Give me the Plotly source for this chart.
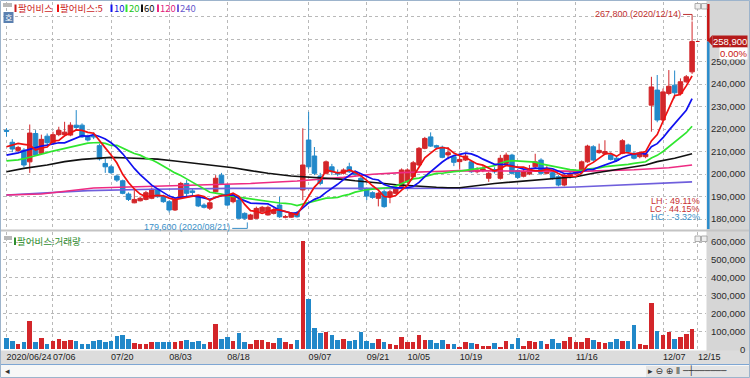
import plotly.graph_objects as go
import pandas as pd

# ---------------- data ----------------
tick_idx = [0, 8, 18, 28, 38, 52, 62, 69, 78, 88, 98, 113, 119]
tick_text = ['2020/06/24', '07/06', '07/20', '08/03', '08/18', '09/07', '09/21',
             '10/05', '10/19', '11/02', '11/16', '12/07', '12/15']

open_p = [219400, 214100, 210500, 210600, 205400, 218000, 209200, 216800, 213900, 217500,
          217500, 217300, 221700, 221700, 216900, 217000, 212600, 204700, 203200, 199100,
          197000, 191100, 187200, 188100, 188700, 189200, 192900, 190200, 187700, 184000,
          189900, 195800, 192500, 189900, 186200, 184800, 192100, 199500, 195100, 187700,
          188400, 182500, 179900, 180300, 183200, 181800, 182500, 186200, 180800, 180800,
          182800, 192900, 215100, 208000, 199100, 200300, 203200, 200500, 200300, 203200,
          200800, 198100, 193200, 191700, 189200, 192100, 189900, 191400, 194300, 196600,
          198800, 204000, 211400, 216500, 212600, 211900, 208500, 207700, 205500, 206200,
          205400, 201000, 201500, 198100, 202000, 198100, 204700, 208400, 201500, 199000,
          200000, 203200, 206200, 200300, 200600, 198800, 195100, 198800, 200000, 201800,
          205400, 212100, 209500, 209000, 208500, 207000, 209200, 212900, 209200, 207700,
          207700, 230600, 237300, 224000, 235800, 239500, 235800, 241000, 245400]
high_p = [220400, 215500, 212500, 211500, 222000, 219500, 217500, 218000, 218800, 221000,
          223200, 223000, 228400, 222500, 217500, 218500, 213500, 206800, 204000, 199800,
          197500, 191800, 192900, 190000, 192500, 194000, 193500, 190800, 188300, 189000,
          196500, 197300, 193500, 190500, 187000, 188000, 199500, 200500, 195800, 190800,
          189000, 183000, 182300, 185500, 185800, 186000, 184800, 189900, 181800, 183000,
          183500, 220300, 227600, 212000, 200500, 206000, 204500, 202000, 202500, 205000,
          201500, 198800, 194000, 192300, 192000, 193000, 193000, 194500, 202500, 202500,
          205800, 212000, 216500, 218500, 213000, 212600, 212000, 208500, 208500, 209000,
          206000, 203000, 203500, 201000, 203000, 208500, 209500, 209000, 202300, 202000,
          204000, 209000, 207000, 203500, 201500, 199500, 200300, 201000, 202000, 206000,
          213000, 212800, 213500, 215000, 209500, 208000, 215500, 213500, 209800, 209600,
          209300, 243200, 244000, 238000, 246200, 246000, 242500, 244000, 267800]
low_p = [216600, 209700, 209800, 203000, 200500, 208000, 208500, 213000, 213000, 216800,
         217000, 216800, 219500, 216000, 214500, 215500, 206000, 200500, 200000, 196500,
         191000, 188000, 187000, 187800, 188300, 188800, 189500, 187200, 182900, 183600,
         189500, 189900, 190500, 185300, 184700, 184000, 191800, 195300, 185800, 187000,
         180000, 179600, 179800, 180000, 182800, 181500, 182000, 180500, 180300, 180500,
         180600, 188400, 202000, 199500, 195000, 199800, 199500, 199000, 199800, 200500,
         199000, 192500, 188400, 189000, 185600, 185000, 187000, 191000, 194000, 196000,
         198500, 203500, 211000, 212000, 211000, 207000, 206500, 203500, 202000, 205800,
         200500, 200300, 200800, 196500, 200200, 197500, 204000, 199800, 197800, 198500,
         199500, 202500, 199500, 199800, 197500, 194500, 194500, 198000, 199500, 201500,
         205000, 205500, 209000, 208500, 206000, 205500, 208800, 209000, 206500, 207000,
         207000, 218800, 223000, 223500, 235000, 233600, 235000, 240500, 244500]
close_p = [219000, 211100, 211800, 204000, 218200, 208400, 215400, 213900, 217500, 219400,
           218600, 221700, 220700, 216500, 215100, 216500, 206700, 203200, 200600, 197300,
           191400, 188700, 188700, 189200, 191700, 193200, 189900, 187700, 184000, 188400,
           195800, 191400, 191800, 185800, 185200, 187200, 198100, 195800, 186200, 189900,
           180300, 180300, 181800, 184700, 185200, 185200, 184000, 181000, 181000, 182500,
           181000, 204000, 203200, 200300, 195800, 205400, 201000, 200000, 201800, 201000,
           199800, 193200, 190200, 189600, 191400, 185500, 192100, 193600, 201800, 201800,
           205000, 211400, 215800, 212400, 211900, 207400, 209500, 205200, 206500, 208000,
           201000, 201800, 202300, 200300, 201000, 207000, 208400, 200300, 198500, 201000,
           202000, 205400, 200300, 202000, 198100, 195100, 199500, 200300, 201500, 205400,
           212400, 206200, 210500, 210000, 206500, 206000, 214800, 209900, 207000, 209200,
           208800, 238700, 224000, 236500, 239000, 236100, 241000, 243200, 258900]
volume = [62600, 47500, 30700, 40200, 155300, 40200, 62600, 30700, 43600, 58700,
          43600, 53100, 43600, 29100, 29100, 43600, 49200, 40200, 43600, 75400,
          81000, 58700, 36300, 30700, 30700, 40200, 38000, 40200, 38000, 39000,
          43600, 51400, 42000, 43600, 29100, 40200, 142500, 54700, 69800, 43600,
          88300, 40200, 30700, 53100, 53100, 40200, 34600, 62600, 40200, 30700,
          51400, 606200, 282100, 118400, 90500, 94100, 77300, 49400, 58700, 43600,
          51400, 96100, 47500, 34600, 56900, 40200, 29100, 21200, 66000, 40200,
          40200, 79200, 51400, 51400, 33000, 51400, 30700, 27000, 14000, 40200,
          34600, 29100, 19600, 16800, 36300, 14000, 43600, 29100, 65400, 19600,
          47500, 40200, 47500, 30700, 58700, 36300, 47500, 69800, 40200, 40200,
          64300, 51400, 40200, 36300, 40200, 56900, 47500, 43600, 136900, 29100,
          21200, 258100, 103400, 77300, 94100, 58700, 66000, 86600, 112700]

# moving-average values visible at the left edge (they depend on earlier, off-screen days)
ma5_head = [212100, 212800, 213600, 213200]
ma10_head = [208400, 208900, 209400, 210300, 211100, 211700, 212400, 212800, 213300]
ma20_head = [205800, 206000, 206300, 206800, 207400, 208000, 208700, 209500, 210200, 210800,
             211400, 212000, 212600, 213200, 213700, 213900, 214000, 213600, 212700]
# long moving averages
ma60_idx = [0, 3, 7, 10, 13, 16, 18, 21, 24, 26, 29, 32, 34, 37, 39, 42, 45, 49, 51, 53, 56, 58,
            60, 63, 65, 67, 70, 72, 74, 76, 78, 84, 90, 95, 98, 101, 104, 107, 110, 112, 115, 118]
ma60_val = [201000, 202500, 204000, 205500, 206500, 207200, 207400, 207100, 206900, 206600,
            205800, 205000, 204300, 203500, 202800, 201500, 200300, 199100, 198800, 198500,
            198100, 197600, 197000, 196400, 195800, 195200, 194600, 194400, 194100, 193900,
            193900, 195800, 197000, 198100, 198800, 200300, 201500, 202500, 204000, 205500,
            207000, 209000]
ma120_idx = [0, 6, 15, 25, 39, 42, 50, 58, 63, 68, 75, 78, 90, 100, 108, 114, 118]
ma120_val = [190700, 191100, 193800, 194600, 195800, 195800, 196900, 198500, 199900, 200600,
             201200, 201500, 201300, 201300, 201900, 202800, 204000]
ma240_idx = [0, 14, 25, 39, 60, 78, 90, 98, 108, 118]
ma240_val = [190700, 192600, 193200, 193600, 193600, 193500, 193700, 194200, 195200, 196500]

price_ticks = [180000, 190000, 200000, 210000, 220000, 230000, 240000, 250000, 260000, 270000]
price_tick_text = ['180,000', '190,000', '200,000', '210,000', '220,000', '230,000',
                   '240,000', '250,000', '', '']
vol_ticks = [100000, 200000, 300000, 400000, 500000, 600000]
vol_tick_text = ['100,000', '200,000', '300,000', '400,000', '500,000', '600,000']

last_price = 258900
hi_price, hi_idx, hi_label = 267800, 118, '267,800 (2020/12/14)'
lo_price, lo_idx, lo_label = 179600, 41, '179,600 (2020/08/21)'
stats = [('LH : 49.11%', 'up'), ('LC : 44.15%', 'up'), ('HC : -3.32%', 'down')]

# ---------------- styling / layout helpers ----------------
RED = '#d3262a'
BLUE = '#2188c9'
GRID = '#b9b9b9'
STRIP = '#d6d6d6'
W, H = 750, 378
ML, MR, MT, MB = 3, 44, 2, 28
PW, PH = W - ML - MR, H - MT - MB


def fx(px):
    return (px - ML) / PW


def fy(py):
    return (H - MB - py) / PH


X0PX, STEP = 6.5, 5.81           # pixel of first candle, pixels per trading day
xr = [(ML - X0PX) / STEP, (W - MR - X0PX) / STEP]
PPX = 10000 / 22.5                # price per pixel
price_dom = [fy(229), 1.0]
price_rng = [180000 - (229 - 219) * PPX, 180000 + (219 - MT) * PPX]
VPX = 100000 / 17.85
vol_dom = [0.0, fy(232)]
vol_rng = [-(H - MB - 349.2) * VPX, (349.2 - 232) * VPX]

n = len(close_p)
idx = list(range(n))
cs = pd.Series(close_p, dtype=float)
ma5 = cs.rolling(5).mean().tolist()
ma10 = cs.rolling(10).mean().tolist()
ma20 = cs.rolling(20).mean().tolist()
ma5[:4] = ma5_head
ma10[:9] = ma10_head
ma20[:19] = ma20_head
vcolors = [RED if c >= o else BLUE for o, c in zip(open_p, close_p)]

fig = go.Figure()
fig.add_trace(go.Candlestick(
    x=idx, open=open_p, high=high_p, low=low_p, close=close_p,
    increasing=dict(line=dict(color=RED, width=1), fillcolor=RED),
    decreasing=dict(line=dict(color=BLUE, width=1), fillcolor=BLUE),
    whiskerwidth=0, showlegend=False, hoverinfo='skip', xaxis='x', yaxis='y'))

for xs, ys, col, wd in [(ma240_idx, ma240_val, '#6f5fdc', 1.6),
                        (ma120_idx, ma120_val, '#ee2a82', 1.6),
                        (ma60_idx, ma60_val, '#111111', 1.6),
                        (idx, ma20, '#2fe62f', 1.7),
                        (idx, ma10, '#1010f0', 1.7),
                        (idx, ma5, '#f01010', 1.7)]:
    fig.add_trace(go.Scatter(x=xs, y=ys, mode='lines', line=dict(color=col, width=wd),
                             showlegend=False, hoverinfo='skip', xaxis='x', yaxis='y'))

fig.add_trace(go.Bar(x=idx, y=volume, width=0.78,
                     marker=dict(color=vcolors, line=dict(width=0)),
                     showlegend=False, hoverinfo='skip', xaxis='x2', yaxis='y2'))

axfont = dict(family='Liberation Sans', size=9.5, color='#2a2a2a')
common_x = dict(range=xr, tickvals=tick_idx, showgrid=True, gridcolor=GRID, griddash='dot',
                gridwidth=1, zeroline=False, showline=False, ticks='', fixedrange=True)
common_y = dict(side='right', showgrid=True, gridcolor=GRID, griddash='dot', gridwidth=1,
                zeroline=False, showline=False, ticks='', tickfont=axfont, fixedrange=True)

fig.update_layout(
    width=W, height=H, margin=dict(l=ML, r=MR, t=MT, b=MB),
    paper_bgcolor='white', plot_bgcolor='white',
    showlegend=False, boxgap=0.12, boxgroupgap=0.12, bargap=0,
    xaxis=dict(domain=[0, 1], anchor='y', showticklabels=False,
               rangeslider=dict(visible=False), **common_x),
    xaxis2=dict(domain=[0, 1], anchor='y2', showticklabels=True, ticktext=tick_text,
                ticklabelposition='outside right',
                tickfont=dict(family='Liberation Sans', size=9, color='#222222'),
                rangeslider=dict(visible=False), **common_x),
    yaxis=dict(domain=price_dom, range=price_rng, tickvals=price_ticks,
               ticktext=price_tick_text, anchor='x', ticklabelstandoff=4, **common_y),
    yaxis2=dict(domain=vol_dom, range=vol_rng, tickvals=vol_ticks,
                ticktext=vol_tick_text, anchor='x2', ticklabelstandoff=4, **common_y),
    yaxis3=dict(overlaying='y2', anchor='x2', range=vol_rng, tickvals=[0], ticktext=['0'],
                side='right', showgrid=False, zeroline=False, showline=False, ticks='',
                tickfont=axfont, ticklabelstandoff=33, fixedrange=True),
)
# invisible trace so the overlay axis (right-aligned "0" label) is drawn
fig.add_trace(go.Scatter(x=[0], y=[0], mode='markers', marker=dict(opacity=0),
                         showlegend=False, hoverinfo='skip', xaxis='x2', yaxis='y3'))


def rect_px(x0, y0, x1, y1, fill, layer='above', lc=None, lw=0):
    return dict(type='rect', xref='paper', yref='paper', x0=fx(x0), x1=fx(x1),
                y0=fy(y1), y1=fy(y0), fillcolor=fill, layer=layer,
                line=dict(color=lc or fill, width=lw))


def line_px(x0, y0, x1, y1, color, width=1, layer='above'):
    return dict(type='line', xref='paper', yref='paper', x0=fx(x0), x1=fx(x1),
                y0=fy(y0), y1=fy(y1), line=dict(color=color, width=width), layer=layer)


shapes = [
    # right axis strip
    rect_px(706.5, 0, 751, 364, STRIP, layer='below'),
    # separator between panels
    line_px(0, 230.5, 750, 230.5, '#c4c4c4', 2),
    # x label band and bottom bar
    rect_px(0, 350.5, 751, 364, '#dcdcdc', layer='below'),
    line_px(0, 364.5, 750, 364.5, '#7ea6d3', 1.2),
    rect_px(0, 365, 751, 378, '#f7f7f7', layer='below'),
    rect_px(646, 366, 751, 378, '#e4e4e4', layer='below'),
    # outer frame
    rect_px(0.5, 0.5, 749.5, 377.5, 'rgba(0,0,0,0)', lc='#9db4cc', lw=1),
    # price range bar on right edge
    dict(type='line', xref='paper', yref='y', x0=fx(708.3), x1=fx(708.3),
         y0=last_price, y1=price_rng[1] - 2 * PPX, line=dict(color='#c81414', width=2.5)),
    dict(type='line', xref='paper', yref='y', x0=fx(708.3), x1=fx(708.3),
         y0=price_rng[0], y1=last_price, line=dict(color='#2a8ccc', width=2.5)),
    # current price pointer
    dict(type='path', xref='paper', yref='paper',
         path=f'M {fx(707.5)} {fy(40.5)} L {fx(712.5)} {fy(35)} L {fx(712.5)} {fy(46)} Z',
         fillcolor='#b51a1a', line=dict(width=0)),
    dict(type='line', xref='x', yref='y', x0=n - 0.35, x1=n + 0.3, y0=last_price,
         y1=last_price, line=dict(color='#c81414', width=1)),
    # high / low brackets
    dict(type='line', xref='x', yref='y', x0=hi_idx - 1.55, x1=hi_idx, y0=hi_price + 7 * PPX,
         y1=hi_price + 7 * PPX, line=dict(color='#c03030', width=1)),
    dict(type='line', xref='x', yref='y', x0=hi_idx, x1=hi_idx, y0=hi_price + 7 * PPX,
         y1=hi_price + 1 * PPX, line=dict(color='#c03030', width=1)),
    dict(type='line', xref='x', yref='y', x0=lo_idx - 2.15, x1=lo_idx + 0.45,
         y0=lo_price - 8.5 * PPX, y1=lo_price - 8.5 * PPX, line=dict(color='#3a8fc8', width=1)),
    dict(type='line', xref='x', yref='y', x0=lo_idx + 0.45, x1=lo_idx + 0.45,
         y0=lo_price - 8.5 * PPX, y1=lo_price - 2.5 * PPX, line=dict(color='#3a8fc8', width=1)),
    # small UI icons
    rect_px(3, 3, 12, 7, '#b8b8b8'),
    rect_px(3.5, 12, 13.5, 23, '#5a80b0'),
    rect_px(695, 3.5, 700.5, 9, '#eeeeee', lc='#9a9a9a', lw=0.8),
    rect_px(701.5, 3.5, 707, 9, '#eeeeee', lc='#9a9a9a', lw=0.8),
    rect_px(4, 236, 12, 240, '#b8b8b8'),
    rect_px(695, 236, 700.5, 241.5, '#eeeeee', lc='#9a9a9a', lw=0.8),
    rect_px(701.5, 236, 707, 241.5, '#eeeeee', lc='#9a9a9a', lw=0.8),
]

# legend colour chips
legend = [(15, '팔어비스', '#cc1f1f', '#cc1f1f'), (57.5, '팔어비스:5', '#cc1f1f', '#f01010'),
          (111, '10', '#1515d8', '#1010f0'), (126, '20', '#22c322', '#2fe62f'),
          (141.5, '60', '#111111', '#111111'), (157.5, '120', '#e0207a', '#ee2a82'),
          (177.5, '240', '#6a5acd', '#6f5fdc')]
annotations = []
kfont = 'Noto Sans CJK KR'
for x, txt, tcol, ccol in legend:
    shapes.append(rect_px(x - 0.5, 4.5, x + 1.5, 12, ccol))
    annotations.append(dict(xref='paper', yref='paper', x=fx(x + 0.5), y=fy(8.3),
                            xanchor='left', yanchor='middle', showarrow=False, text=txt,
                            font=dict(family=kfont, size=9.5, color=tcol)))
shapes.append(rect_px(14, 237.5, 16, 245, '#2f8f2f'))
annotations.append(dict(xref='paper', yref='paper', x=fx(15), y=fy(241.3), xanchor='left',
                        yanchor='middle', showarrow=False, text='팔어비스:거래량',
                        font=dict(family=kfont, size=9.5, color='#2f8f2f')))
annotations.append(dict(xref='paper', yref='paper', x=fx(8.5), y=fy(17.5), xanchor='center',
                        yanchor='middle', showarrow=False, text='호',
                        font=dict(family=kfont, size=8, color='white')))

sfont = 'Liberation Sans'
annotations += [
    dict(xref='paper', yref='y', x=fx(747.5), y=last_price, xanchor='right', yanchor='middle',
         showarrow=False, text=f'{last_price:,}', bgcolor='#b51a1a', borderpad=0,
         font=dict(family=sfont, size=9.5, color='white')),
    dict(xref='paper', yref='y', x=fx(747.5), y=last_price, yshift=-12.5, xanchor='right',
         yanchor='middle', showarrow=False, text='0.00%', bgcolor='white', borderpad=0,
         font=dict(family=sfont, size=9.5, color='#c81414')),
    dict(xref='x', yref='y', x=hi_idx - 1.55, y=hi_price + 7 * PPX, xanchor='right',
         yanchor='middle', showarrow=False, text=hi_label,
         font=dict(family=sfont, size=9, color='#c03030')),
    dict(xref='x', yref='y', x=lo_idx - 2.15, y=lo_price - 7 * PPX, xanchor='right',
         yanchor='middle', showarrow=False, text=lo_label,
         font=dict(family=sfont, size=9, color='#3a8fc8')),
]
for k, (txt, kind) in enumerate(stats):
    annotations.append(dict(xref='paper', yref='paper', x=fx(702), y=fy(201 + 8 * k),
                            xanchor='right', yanchor='middle', showarrow=False, text=txt,
                            font=dict(family=sfont, size=9,
                                      color='#c83232' if kind == 'up' else '#3a8fc8')))
# bottom bar controls
annotations += [
    dict(xref='paper', yref='paper', x=fx(3), y=fy(371.5), xanchor='left', yanchor='middle',
         showarrow=False, text='◂', font=dict(family='DejaVu Sans', size=9, color='#333')),
    dict(xref='paper', yref='paper', x=fx(646), y=fy(371.5), xanchor='left', yanchor='middle',
         showarrow=False, text='▸ ⊖ ⊕ ⦀ ─┼──────',
         font=dict(family='DejaVu Sans', size=9, color='#333')),
]

fig.update_layout(shapes=shapes, annotations=annotations)
fig.write_html('out.html', config={'displayModeBar': False, 'staticPlot': True},
               post_script="document.body.style.margin='0';document.body.style.padding='0';")
